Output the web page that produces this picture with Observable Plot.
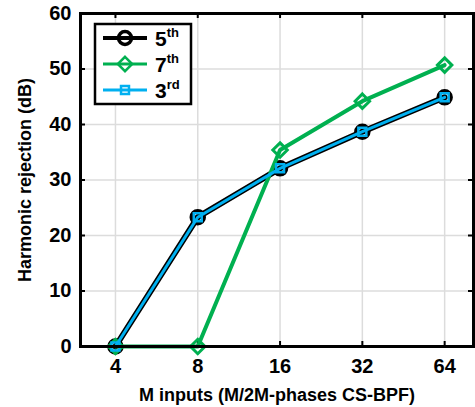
<!DOCTYPE html>
<html>
<head>
<meta charset="utf-8">
<script src="https://cdn.jsdelivr.net/npm/d3@7"></script>
<script src="https://cdn.jsdelivr.net/npm/@observablehq/plot@0.6"></script>
<style>
  html, body { margin: 0; padding: 0; background: #fff; }
  #chart { position: relative; width: 475px; height: 407px; }
  svg { font-family: "Liberation Sans", Arial, sans-serif; }
</style>
</head>
<body>
<div id="chart"></div>
<script>
// ---- data ----
const mInputs = [4, 8, 16, 32, 64];
const fifth   = [0, 23.3, 32.1, 38.7, 44.9];
const seventh = [0, 0, 35.4, 44.2, 50.7];
const third   = [0, 23.3, 32.1, 38.7, 44.9];
const yTicks  = [0, 10, 20, 30, 40, 50, 60];
const seriesNames  = ["5", "7", "3"];
const seriesSup    = ["th", "th", "rd"];
const seriesColors = ["#000000", "#00b050", "#00b0f0"];

const rows = (vals) => mInputs.map((m, i) => ({m, v: vals[i]}));
const d5 = rows(fifth), d7 = rows(seventh), d3r = rows(third);

const W = 475, H = 407;
const mL = 80, mR = 2, mT = 13, mB = 61;
const pw = W - mL - mR, ph = H - mT - mB;

const plot = Plot.plot({
  width: W, height: H,
  marginLeft: mL, marginRight: mR, marginTop: mT, marginBottom: mB,
  style: {fontFamily: "'Liberation Sans', Arial, sans-serif", background: "white"},
  x: {type: "log", base: 2, domain: [2.98, 81.6]},
  y: {domain: [0, 60]},
  marks: [
    Plot.gridX(mInputs, {stroke: "#dcdcdc", strokeOpacity: 1, strokeWidth: 1.5}),
    Plot.gridY(yTicks, {stroke: "#dcdcdc", strokeOpacity: 1, strokeWidth: 1.5}),
    // inward ticks
    Plot.tickY(yTicks, {y: d => d, insetRight: pw - 5, strokeWidth: 2}),
    Plot.tickY(yTicks, {y: d => d, insetLeft: pw - 5, strokeWidth: 2}),
    Plot.tickX(mInputs, {x: d => d, insetTop: ph - 5, strokeWidth: 2}),
    Plot.tickX(mInputs, {x: d => d, insetBottom: ph - 5, strokeWidth: 2}),
    Plot.axisY(yTicks, {tickSize: 0, tickPadding: 9, fontSize: 20, fontWeight: "bold", label: null, fill: "black"}),
    Plot.axisX(mInputs, {tickSize: 0, tickPadding: 12, fontSize: 20, fontWeight: "bold", label: null, fill: "black", tickFormat: d => String(d)}),
    // series 5th
    Plot.line(d5, {x: "m", y: "v", stroke: seriesColors[0], strokeWidth: 6}),
    Plot.dot(d5, {x: "m", y: "v", symbol: "circle", r: 6.5, stroke: seriesColors[0], strokeWidth: 3.5, fill: "none"}),
    // series 7th
    Plot.line(d7, {x: "m", y: "v", stroke: seriesColors[1], strokeWidth: 4}),
    Plot.dot(d7, {x: "m", y: "v", symbol: "diamond2", r: 6.5, stroke: seriesColors[1], strokeWidth: 3, fill: "none"}),
    // series 3rd
    Plot.line(d3r, {x: "m", y: "v", stroke: seriesColors[2], strokeWidth: 3}),
    Plot.dot(d3r, {x: "m", y: "v", symbol: "square", r: 4.5, stroke: seriesColors[2], strokeWidth: 2.5, fill: "none"}),
    Plot.frame({stroke: "black", strokeWidth: 3}),
    Plot.text(["Harmonic rejection (dB)"], {frameAnchor: "left", textAnchor: "middle", rotate: -90, dx: -55, fontSize: 18, fontWeight: "bold", fill: "black"}),
    Plot.text(["M inputs (M/2M-phases CS-BPF)"], {frameAnchor: "bottom", textAnchor: "middle", dy: 49, lineAnchor: "middle", fontSize: 18, fontWeight: "bold", fill: "black"})
  ]
});
document.getElementById("chart").appendChild(plot);

// ---- legend ----
const svg = d3.select(plot);
const lg = svg.append("g").attr("transform", "translate(95,24)");
lg.append("rect").attr("width", 96).attr("height", 80)
  .attr("fill", "white").attr("stroke", "black").attr("stroke-width", 2.5);
const symbols = [d3.symbolCircle, d3.symbolDiamond2, d3.symbolSquare];
const symSize = [Math.PI * 6.5 * 6.5, Math.PI * 6.5 * 6.5, Math.PI * 4.5 * 4.5];
const lw = [4, 3, 3];
seriesNames.forEach((n, i) => {
  const y = 14 + i * 26;
  const g = lg.append("g").attr("transform", `translate(0,${y})`);
  g.append("line").attr("x1", 8).attr("x2", 52).attr("y1", 0).attr("y2", 0)
    .attr("stroke", seriesColors[i]).attr("stroke-width", lw[i]);
  g.append("path").attr("transform", "translate(30,0)")
    .attr("d", d3.symbol(symbols[i], symSize[i])())
    .attr("fill", "none").attr("stroke", seriesColors[i]).attr("stroke-width", i === 0 ? 3.5 : 2.5);
  const t = g.append("text").attr("x", 60).attr("y", 8)
    .attr("text-anchor", "start")
    .attr("font-size", 21).attr("font-weight", "bold").attr("fill", "black")
    .attr("font-family", "'Liberation Sans', Arial, sans-serif");
  t.append("tspan").text(n);
  t.append("tspan").attr("font-size", 13).attr("dy", -9).text(seriesSup[i]);
});
</script>
</body>
</html>
